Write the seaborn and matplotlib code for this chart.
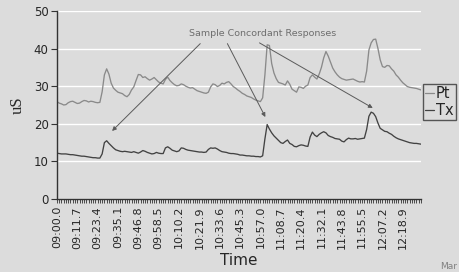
import numpy as np
import pandas as pd
import matplotlib
matplotlib.use("Agg")
import matplotlib.pyplot as plt
import seaborn as sns

# Skin conductance samples (uS), one every 1.3 s starting at 09:00.0
pt_values = [
    25.9, 25.5, 25.3, 25.0, 25.1, 25.6, 25.9, 26.0, 25.7, 25.4,
    25.5, 25.9, 26.2, 26.1, 25.8, 26.0, 25.9, 25.7, 25.6, 25.7,
    28.5, 33.0, 34.6, 33.2, 30.8, 29.5, 28.9, 28.4, 28.2, 28.0,
    27.5, 27.2, 27.8, 29.0, 29.8, 31.5, 33.1, 33.0, 32.3, 32.5,
    32.0, 31.6, 31.9, 32.3, 31.7, 31.1, 30.8, 30.6, 31.8, 32.4,
    31.5, 30.9, 30.4, 30.1, 30.2, 30.6, 30.4, 30.0, 29.7, 29.5,
    29.6, 29.2, 28.8, 28.6, 28.4, 28.2, 28.1, 28.4, 29.8, 30.6,
    30.4, 29.9, 30.2, 30.8, 30.6, 31.0, 31.2, 30.6, 29.9, 29.5,
    29.0, 28.6, 28.1, 27.8, 27.4, 27.2, 27.0, 26.6, 26.3, 26.1,
    25.9, 26.9, 33.0, 41.0, 40.8, 36.0, 33.5, 32.0, 31.0, 30.8,
    30.6, 30.3, 31.4, 30.5, 29.2, 28.8, 28.4, 29.8, 29.7, 29.4,
    30.0, 30.3, 32.3, 33.0, 32.4, 31.9, 33.2, 35.0, 37.5, 39.2,
    38.0, 36.4, 34.8, 33.8, 33.0, 32.4, 32.0, 31.8, 31.6, 31.7,
    31.8, 31.9, 31.6, 31.3, 31.1, 31.2, 31.1, 34.0, 39.6, 41.5,
    42.4, 42.5, 40.0, 37.0, 35.2, 35.0, 35.5, 35.4, 34.6, 34.0,
    33.0, 32.4, 31.6, 30.9, 30.4, 29.9, 29.7, 29.6, 29.5, 29.4,
    29.2, 29.0,
]
tx_values = [
    12.2, 12.1, 12.0, 12.0, 12.0, 11.9, 11.8, 11.8, 11.7, 11.6,
    11.5, 11.4, 11.4, 11.3, 11.2, 11.1, 11.0, 11.0, 10.9, 10.9,
    12.0, 15.0, 15.5, 14.8, 14.2, 13.6, 13.1, 12.9, 12.7, 12.6,
    12.7, 12.6, 12.5, 12.4, 12.6, 12.4, 12.2, 12.5, 12.9, 12.7,
    12.4, 12.2, 12.0, 12.1, 12.4, 12.2, 12.1, 12.1, 13.6, 13.9,
    13.5, 13.0, 12.8, 12.6, 12.8, 13.6, 13.5, 13.2, 13.0, 12.9,
    12.8, 12.7, 12.6, 12.5, 12.5, 12.4, 12.5, 13.2, 13.6, 13.5,
    13.6, 13.3, 12.9, 12.6, 12.5, 12.4, 12.2, 12.1, 12.1, 12.0,
    11.9, 11.7, 11.7, 11.6, 11.5, 11.5, 11.4, 11.4, 11.3, 11.3,
    11.2, 11.5, 16.0, 19.8, 18.6, 17.6, 16.8, 16.2, 15.6, 15.0,
    14.8, 15.3, 15.7, 14.8, 14.5, 14.0, 13.9, 14.2, 14.4, 14.3,
    14.1, 14.0, 16.5, 17.8, 17.0, 16.6, 17.2, 17.6, 17.9, 17.6,
    16.9, 16.6, 16.4, 16.1, 16.0, 15.9, 15.4, 15.2, 15.8, 16.2,
    16.0, 16.0, 16.1, 15.9, 16.0, 16.1, 16.2, 18.5, 22.0, 23.1,
    22.8, 21.9, 20.2, 18.8, 18.4, 18.0, 17.9, 17.5, 17.2, 16.7,
    16.3, 16.0, 15.8, 15.6, 15.4, 15.2, 15.0, 14.9, 14.8, 14.8,
    14.7, 14.6,
]
tick_labels = [
    "09:00.0", "09:11.7", "09:23.4", "09:35.1", "09:46.8", "09:58.5",
    "10:10.2", "10:21.9", "10:33.6", "10:45.3", "10:57.0", "11:08.7",
    "11:20.4", "11:32.1", "11:43.8", "11:55.5", "12:07.2", "12:18.9",
]
label_every = 9
series_names = ["Pt", "Tx"]

bg = "#dcdcdc"
sns.set_theme(style="white", rc={"axes.facecolor": bg, "figure.facecolor": bg})
plt.rcParams["font.family"] = ["DejaVu Sans"]

n = len(pt_values)
df = pd.DataFrame({
    "sample": np.tile(np.arange(n), 2),
    "uS": pt_values + tx_values,
    "series": np.repeat(series_names, n),
})

fig = plt.figure(figsize=(4.59, 2.72), dpi=100)
ax = fig.add_axes([0.124, 0.268, 0.793, 0.692])

sns.lineplot(data=df, x="sample", y="uS", hue="series",
             palette={"Pt": "#8a8a8a", "Tx": "#424242"},
             linewidth=0.95, ax=ax, legend=True)

ax.set_xlim(0, n - 1)
ax.set_ylim(0, 50)
ax.set_yticks(range(0, 51, 10))
ax.yaxis.grid(True, color="white", linewidth=1.0)
ax.set_axisbelow(True)

ax.set_xticks(np.arange(len(tick_labels)) * label_every)
ax.set_xticklabels(tick_labels, rotation=90, fontsize=8)
ax.set_xticks(np.arange(n), minor=True)
ax.tick_params(axis="x", which="both", direction="out", length=3,
               width=0.6, color="#333333", bottom=True, pad=2)
ax.tick_params(axis="y", direction="out", length=4, width=0.8,
               color="#333333", left=True, labelsize=8.5, pad=2)

for side in ["top", "right"]:
    ax.spines[side].set_visible(False)
for side in ["left", "bottom"]:
    ax.spines[side].set_color("#333333")
    ax.spines[side].set_linewidth(1.0)

ax.set_xlabel("Time", fontsize=11, labelpad=3)
ax.set_ylabel("uS", fontsize=12, family="Liberation Serif", labelpad=6)

leg = ax.legend(loc="upper left", bbox_to_anchor=(0.921, 0.693),
                bbox_transform=fig.transFigure, fontsize=10.5, frameon=True,
                fancybox=False, handlelength=0.6, handletextpad=0.15,
                borderpad=0.15, labelspacing=0.15, borderaxespad=0)
leg.get_frame().set_edgecolor("#333333")
leg.get_frame().set_facecolor(bg)
leg.get_frame().set_linewidth(1.0)
for line in leg.get_lines():
    line.set_linewidth(0.9)

# annotation arrows
ax.text(90.9, 44.1, "Sample Concordant Responses", fontsize=6.8,
        color="#6e6e6e", ha="center", va="center")
arrows = [((63.4, 41.3), (24.4, 18.1)),
          ((75.4, 41.3), (92.2, 21.8)),
          ((89.6, 41.5), (139.7, 24.2))]
for start, end in arrows:
    ax.annotate("", xy=end, xytext=start,
                arrowprops=dict(arrowstyle="-|>", color="#5a5a5a", lw=0.7,
                                mutation_scale=6, shrinkA=0, shrinkB=0))

fig.text(0.958, 0.003, "Mar", fontsize=6.5, color="#808080", va="bottom")

fig.savefig("out.png", dpi=100, facecolor=bg)
